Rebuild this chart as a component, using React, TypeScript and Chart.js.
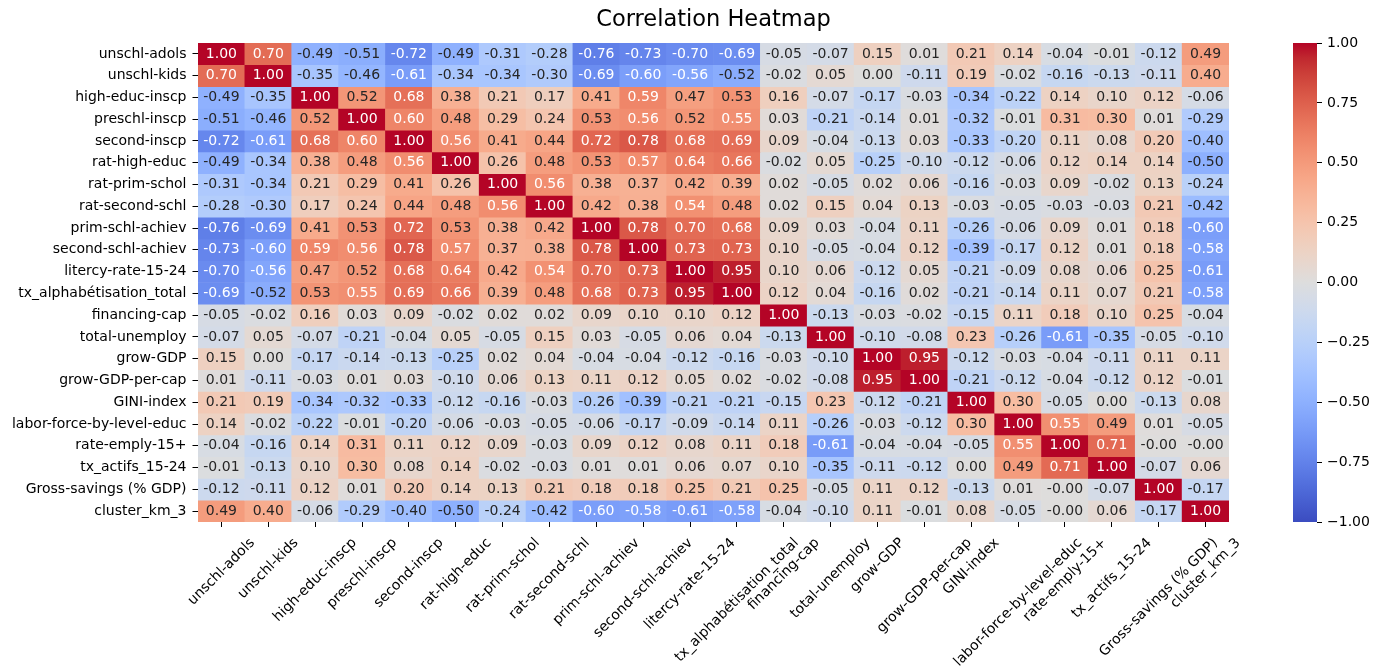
import React, { useEffect, useRef } from "react";
import { Chart, registerables } from "chart.js";

Chart.register(...registerables);

// Variable names, in matrix order (rows top→bottom, columns left→right)
const variables: string[] = [
  "unschl-adols",
  "unschl-kids",
  "high-educ-inscp",
  "preschl-inscp",
  "second-inscp",
  "rat-high-educ",
  "rat-prim-schol",
  "rat-second-schl",
  "prim-schl-achiev",
  "second-schl-achiev",
  "litercy-rate-15-24",
  "tx_alphabétisation_total",
  "financing-cap",
  "total-unemploy",
  "grow-GDP",
  "grow-GDP-per-cap",
  "GINI-index",
  "labor-force-by-level-educ",
  "rate-emply-15+",
  "tx_actifs_15-24",
  "Gross-savings (% GDP)",
  "cluster_km_3",
];

// Pairwise correlation coefficients, one row per variable
const correlations: number[][] = [
  [1.0, 0.7, -0.49, -0.51, -0.72, -0.49, -0.31, -0.28, -0.76, -0.73, -0.7, -0.69, -0.05, -0.07, 0.15, 0.01, 0.21, 0.14, -0.04, -0.01, -0.12, 0.49],
  [0.7, 1.0, -0.35, -0.46, -0.61, -0.34, -0.34, -0.3, -0.69, -0.6, -0.56, -0.52, -0.02, 0.05, 0.0, -0.11, 0.19, -0.02, -0.16, -0.13, -0.11, 0.4],
  [-0.49, -0.35, 1.0, 0.52, 0.68, 0.38, 0.21, 0.17, 0.41, 0.59, 0.47, 0.53, 0.16, -0.07, -0.17, -0.03, -0.34, -0.22, 0.14, 0.1, 0.12, -0.06],
  [-0.51, -0.46, 0.52, 1.0, 0.6, 0.48, 0.29, 0.24, 0.534, 0.56, 0.52, 0.55, 0.03, -0.21, -0.14, 0.01, -0.32, -0.01, 0.31, 0.3, 0.01, -0.29],
  [-0.72, -0.61, 0.68, 0.6, 1.0, 0.56, 0.41, 0.44, 0.72, 0.78, 0.68, 0.69, 0.09, -0.04, -0.13, 0.03, -0.33, -0.2, 0.11, 0.08, 0.2, -0.4],
  [-0.49, -0.34, 0.38, 0.48, 0.56, 1.0, 0.26, 0.48, 0.53, 0.57, 0.64, 0.66, -0.02, 0.05, -0.25, -0.1, -0.12, -0.06, 0.12, 0.14, 0.14, -0.5],
  [-0.31, -0.34, 0.21, 0.29, 0.41, 0.26, 1.0, 0.56, 0.38, 0.37, 0.42, 0.39, 0.02, -0.05, 0.02, 0.06, -0.16, -0.03, 0.09, -0.02, 0.13, -0.24],
  [-0.28, -0.3, 0.17, 0.24, 0.44, 0.48, 0.56, 1.0, 0.42, 0.38, 0.54, 0.48, 0.02, 0.15, 0.04, 0.13, -0.03, -0.05, -0.03, -0.03, 0.21, -0.42],
  [-0.76, -0.69, 0.41, 0.534, 0.72, 0.53, 0.38, 0.42, 1.0, 0.78, 0.7, 0.68, 0.09, 0.03, -0.04, 0.11, -0.26, -0.06, 0.09, 0.01, 0.18, -0.6],
  [-0.73, -0.6, 0.59, 0.56, 0.78, 0.57, 0.37, 0.38, 0.78, 1.0, 0.73, 0.73, 0.1, -0.05, -0.04, 0.12, -0.39, -0.17, 0.12, 0.01, 0.18, -0.58],
  [-0.7, -0.56, 0.47, 0.52, 0.68, 0.64, 0.42, 0.54, 0.7, 0.73, 1.0, 0.95, 0.1, 0.06, -0.12, 0.05, -0.21, -0.09, 0.08, 0.06, 0.25, -0.61],
  [-0.69, -0.52, 0.53, 0.55, 0.69, 0.66, 0.39, 0.48, 0.68, 0.73, 0.95, 1.0, 0.12, 0.04, -0.16, 0.02, -0.21, -0.14, 0.11, 0.07, 0.21, -0.58],
  [-0.05, -0.02, 0.16, 0.03, 0.09, -0.02, 0.02, 0.02, 0.09, 0.1, 0.1, 0.12, 1.0, -0.13, -0.03, -0.02, -0.15, 0.11, 0.18, 0.1, 0.25, -0.04],
  [-0.07, 0.05, -0.07, -0.21, -0.04, 0.05, -0.05, 0.15, 0.03, -0.05, 0.06, 0.04, -0.13, 1.0, -0.1, -0.08, 0.23, -0.26, -0.61, -0.35, -0.05, -0.1],
  [0.15, 0.0, -0.17, -0.14, -0.13, -0.25, 0.02, 0.04, -0.04, -0.04, -0.12, -0.16, -0.03, -0.1, 1.0, 0.95, -0.12, -0.03, -0.04, -0.11, 0.11, 0.11],
  [0.01, -0.11, -0.03, 0.01, 0.03, -0.1, 0.06, 0.13, 0.11, 0.12, 0.05, 0.02, -0.02, -0.08, 0.95, 1.0, -0.21, -0.12, -0.04, -0.12, 0.12, -0.01],
  [0.21, 0.19, -0.34, -0.32, -0.33, -0.12, -0.16, -0.03, -0.26, -0.39, -0.21, -0.21, -0.15, 0.23, -0.12, -0.21, 1.0, 0.3, -0.05, 0.0, -0.13, 0.08],
  [0.14, -0.02, -0.22, -0.01, -0.2, -0.06, -0.03, -0.05, -0.06, -0.17, -0.09, -0.14, 0.11, -0.26, -0.03, -0.12, 0.3, 1.0, 0.55, 0.49, 0.01, -0.05],
  [-0.04, -0.16, 0.14, 0.31, 0.11, 0.12, 0.09, -0.03, 0.09, 0.12, 0.08, 0.11, 0.18, -0.61, -0.04, -0.04, -0.05, 0.55, 1.0, 0.71, -0.0, -0.0],
  [-0.01, -0.13, 0.1, 0.3, 0.08, 0.14, -0.02, -0.03, 0.01, 0.01, 0.06, 0.07, 0.1, -0.35, -0.11, -0.12, 0.0, 0.49, 0.71, 1.0, -0.07, 0.06],
  [-0.12, -0.11, 0.12, 0.01, 0.2, 0.14, 0.13, 0.21, 0.18, 0.18, 0.25, 0.21, 0.25, -0.05, 0.11, 0.12, -0.13, 0.01, -0.0, -0.07, 1.0, -0.17],
  [0.49, 0.4, -0.06, -0.29, -0.4, -0.5, -0.24, -0.42, -0.6, -0.58, -0.61, -0.58, -0.04, -0.1, 0.11, -0.01, 0.08, -0.05, -0.0, 0.06, -0.17, 1.0],
];

// Colour bar range and tick spacing
const colorbarRange: [number, number] = [-1, 1];
const colorbarStep = 0.25;

const FONT = "'DejaVu Sans', sans-serif";
const TEXT_DARK = "rgb(38,38,38)";

// Diverging "coolwarm" colour map control points (blue → grey → red)
const COOLWARM: [number, number, number][] = [
  [59, 76, 192], [68, 90, 204], [77, 104, 215], [87, 117, 225],
  [98, 130, 234], [108, 142, 241], [119, 154, 247], [130, 165, 251],
  [141, 176, 254], [152, 185, 255], [163, 194, 255], [174, 201, 253],
  [184, 208, 249], [194, 213, 244], [204, 217, 238], [213, 219, 230],
  [221, 221, 221], [229, 216, 209], [236, 211, 197], [241, 204, 185],
  [245, 196, 173], [247, 187, 160], [247, 177, 148], [247, 166, 135],
  [244, 154, 123], [241, 141, 111], [236, 127, 99], [229, 112, 88],
  [222, 96, 77], [213, 80, 66], [203, 62, 56], [192, 40, 47],
  [180, 4, 38],
];

function interpColor(t: number): [number, number, number] {
  const x = Math.min(1, Math.max(0, t)) * (COOLWARM.length - 1);
  const i = Math.min(COOLWARM.length - 2, Math.floor(x));
  const f = x - i;
  const a = COOLWARM[i];
  const b = COOLWARM[i + 1];
  return [a[0] + (b[0] - a[0]) * f, a[1] + (b[1] - a[1]) * f, a[2] + (b[2] - a[2]) * f];
}

// Map a correlation in [-1, 1] onto a 256-level colour table
function colorFor(v: number): [number, number, number] {
  const t = (v - colorbarRange[0]) / (colorbarRange[1] - colorbarRange[0]);
  const idx = Math.min(255, Math.max(0, Math.floor(t * 256)));
  return interpColor(idx / 255);
}

function rgb(c: [number, number, number]): string {
  return `rgb(${Math.round(c[0])},${Math.round(c[1])},${Math.round(c[2])})`;
}

// Light cells get dark annotation text, dark cells get white
function textColorFor(v: number): string {
  const lin = colorFor(v).map((ch) => {
    const s = ch / 255;
    return s <= 0.03928 ? s / 12.92 : Math.pow((s + 0.055) / 1.055, 2.4);
  });
  const lum = 0.2126 * lin[0] + 0.7152 * lin[1] + 0.0722 * lin[2];
  return lum > 0.408 ? TEXT_DARK : "#ffffff";
}

function formatCell(v: number): string {
  const s = Math.abs(v).toFixed(2);
  return v < 0 || Object.is(v, -0) ? "-" + s : s;
}

function formatBarTick(v: number): string {
  const s = Math.abs(v).toFixed(2);
  return v < -1e-9 ? "\u2212" + s : s;
}

const cellLabels = {
  id: "cellLabels",
  afterDatasetsDraw(chart: any) {
    const { ctx } = chart;
    const xs = chart.scales.x;
    const ys = chart.scales.y;
    ctx.save();
    ctx.font = `14px ${FONT}`;
    ctx.textAlign = "center";
    ctx.textBaseline = "middle";
    correlations.forEach((row, r) => {
      row.forEach((v, c) => {
        ctx.fillStyle = textColorFor(v);
        ctx.fillText(formatCell(v), xs.getPixelForValue(c), ys.getPixelForValue(r + 0.5));
      });
    });
    ctx.restore();
  },
};

// Column names rotated 45°, each centred under its tick
const rotatedXLabels = {
  id: "rotatedXLabels",
  afterDraw(chart: any) {
    const { ctx, chartArea } = chart;
    const xs = chart.scales.x;
    const fontSize = 14;
    const lineBox = fontSize * 1.164;
    const top = chartArea.bottom + 5 + 8;
    ctx.save();
    ctx.font = `${fontSize}px ${FONT}`;
    ctx.fillStyle = "#000";
    ctx.textAlign = "center";
    ctx.textBaseline = "middle";
    variables.forEach((label, i) => {
      const w = ctx.measureText(label).width;
      const cx = xs.getPixelForValue(i);
      const cy = top + ((w + lineBox) * Math.SQRT1_2) / 2;
      ctx.save();
      ctx.translate(cx, cy);
      ctx.rotate(-Math.PI / 4);
      ctx.fillText(label, 0, 0);
      ctx.restore();
    });
    ctx.restore();
  },
};

const MAIN_W = 1240;
const H = 671;
const AREA_RIGHT = 1229;
const AREA_BOTTOM = 522;

export default function App() {
  const mainRef = useRef<HTMLCanvasElement | null>(null);
  const barRef = useRef<HTMLCanvasElement | null>(null);

  useEffect(() => {
    if (!mainRef.current || !barRef.current) return;

    const heatmap = new Chart(mainRef.current, {
      type: "bar",
      data: {
        labels: variables,
        datasets: correlations.map((row, r) => ({
          label: variables[r],
          data: row.map(() => [r, r + 1]),
          backgroundColor: row.map((v) => rgb(colorFor(v))),
          borderWidth: 0,
          barPercentage: 1,
          categoryPercentage: 1,
          grouped: false,
        })),
      } as any,
      options: {
        responsive: false,
        maintainAspectRatio: false,
        animation: false,
        events: [],
        devicePixelRatio: 1,
        layout: { padding: { left: 0, right: MAIN_W - AREA_RIGHT, top: 0, bottom: 0 } },
        plugins: {
          legend: { display: false },
          tooltip: { enabled: false },
          title: {
            display: true,
            text: "Correlation Heatmap",
            fullSize: false,
            color: "#000",
            font: { family: FONT, size: 22.5, weight: "normal" },
            padding: { top: 7, bottom: 9 },
          },
        },
        scales: {
          x: {
            type: "category",
            offset: true,
            grid: {
              offset: false,
              drawOnChartArea: false,
              drawTicks: true,
              tickLength: 5,
              tickColor: "#000",
              tickWidth: 1,
            },
            border: { display: false },
            ticks: { display: false },
            afterFit: (s: any) => {
              s.height = H - AREA_BOTTOM;
            },
          },
          y: {
            type: "linear",
            min: 0,
            max: variables.length,
            reverse: true,
            grid: {
              drawOnChartArea: false,
              drawTicks: true,
              tickLength: 5.5,
              tickColor: "#000",
              tickWidth: 1,
            },
            border: { display: false },
            ticks: {
              autoSkip: false,
              color: "#000",
              padding: 6,
              font: { family: FONT, size: 14 },
              callback: (_v: any, i: number) => variables[i],
            },
            afterBuildTicks: (s: any) => {
              s.ticks = variables.map((_, i) => ({ value: i + 0.5 }));
            },
            afterFit: (s: any) => {
              s.width = 198;
            },
          },
        },
      } as any,
      plugins: [cellLabels, rotatedXLabels],
    });

    const colorbar = new Chart(barRef.current, {
      type: "bar",
      data: {
        labels: [""],
        datasets: [
          {
            data: [colorbarRange],
            borderWidth: 0,
            barPercentage: 1,
            categoryPercentage: 1,
            backgroundColor: (context: any) => {
              const { chart } = context;
              const area = chart.chartArea;
              if (!area) return "rgba(0,0,0,0)";
              const g = chart.ctx.createLinearGradient(0, area.bottom, 0, area.top);
              COOLWARM.forEach((c, i) => g.addColorStop(i / (COOLWARM.length - 1), rgb(c)));
              return g;
            },
          },
        ],
      } as any,
      options: {
        responsive: false,
        maintainAspectRatio: false,
        animation: false,
        events: [],
        devicePixelRatio: 1,
        layout: { padding: { left: 0, right: 0, top: 43, bottom: H - AREA_BOTTOM } },
        plugins: { legend: { display: false }, tooltip: { enabled: false } },
        scales: {
          x: { display: false },
          y: {
            position: "right",
            min: colorbarRange[0],
            max: colorbarRange[1],
            grid: {
              drawOnChartArea: false,
              drawTicks: true,
              tickLength: 5,
              tickColor: "#000",
              tickWidth: 1,
            },
            border: { display: false },
            ticks: {
              stepSize: colorbarStep,
              color: "#000",
              padding: 5,
              font: { family: FONT, size: 14 },
              callback: (v: any) => formatBarTick(Number(v)),
            },
            afterFit: (s: any) => {
              s.width = 69;
            },
          },
        },
      } as any,
    });

    return () => {
      heatmap.destroy();
      colorbar.destroy();
    };
  }, []);

  return (
    <div
      style={{
        position: "absolute",
        left: 0,
        top: 0,
        width: 1386,
        height: H,
        background: "#fff",
        overflow: "hidden",
      }}
    >
      <canvas
        ref={mainRef}
        width={MAIN_W}
        height={H}
        style={{ position: "absolute", left: 0, top: 0, width: MAIN_W, height: H }}
      />
      <canvas
        ref={barRef}
        width={93}
        height={H}
        style={{ position: "absolute", left: 1293, top: 0, width: 93, height: H }}
      />
    </div>
  );
}
